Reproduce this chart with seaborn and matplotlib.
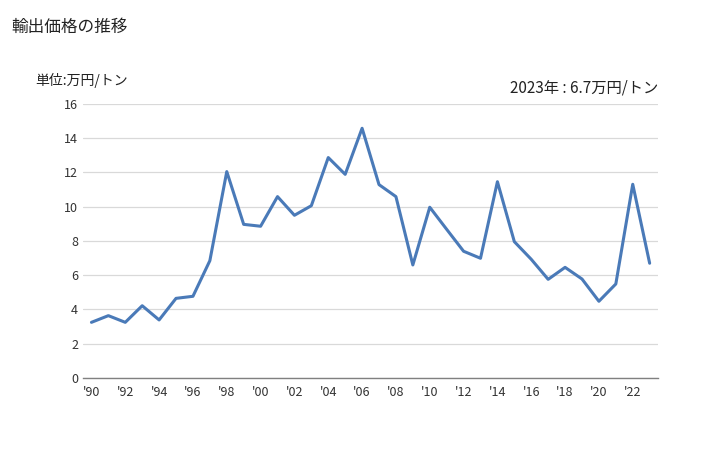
import numpy as np
import pandas as pd
import matplotlib
matplotlib.use('Agg')
import matplotlib.pyplot as plt
import seaborn as sns

years = list(range(1990, 2024))
prices = [3.25, 3.64, 3.25, 4.22, 3.39, 4.65, 4.77, 6.85, 12.05, 8.97,
          8.86, 10.59, 9.5, 10.06, 12.87, 11.89, 14.58, 11.29, 10.59, 6.6,
          9.97, 8.68, 7.4, 6.99, 11.46, 7.96, 6.93, 5.76, 6.46, 5.78,
          4.48, 5.49, 11.31, 6.7]
tick_years = list(range(1990, 2024, 2))
tick_labels = ["'" + str(y)[2:] for y in tick_years]

data = pd.DataFrame({'year': years, 'price': prices})

sns.set_style("white")
plt.rcParams['font.family'] = ['Noto Sans CJK JP', 'DejaVu Sans']

fig = plt.figure(figsize=(7.28, 4.5), dpi=100)
ax = fig.add_axes([0.114, 0.16, 0.79, 0.609])

sns.lineplot(x='year', y='price', data=data, ax=ax, color='#4a7ab8', linewidth=2.2)

ax.set_xlim(1989.5, 2023.5)
ax.set_ylim(0, 16)
ax.set_yticks(range(0, 17, 2))
ax.set_xticks(tick_years)
ax.set_xticklabels(tick_labels)
ax.tick_params(axis='both', labelsize=9, length=0, colors='#333333')
ax.tick_params(axis='x', pad=6)
ax.grid(axis='y', color='#d9d9d9', linewidth=0.9)
ax.set_axisbelow(True)
ax.set_xlabel('')
ax.set_ylabel('')
for s in ['left', 'right', 'top']:
    ax.spines[s].set_visible(False)
ax.spines['bottom'].set_color('#808080')
ax.spines['bottom'].set_linewidth(1.0)

fig.text(0.016, 0.938, '輸出価格の推移', fontsize=12, color='#222222', va='center')
fig.text(0.048, 0.822, '単位:万円/トン', fontsize=10, color='#222222', va='center')
fig.text(0.904, 0.805, '2023年 : 6.7万円/トン', fontsize=11, color='#222222',
         va='center', ha='right')

fig.savefig('out.png', dpi=100)
